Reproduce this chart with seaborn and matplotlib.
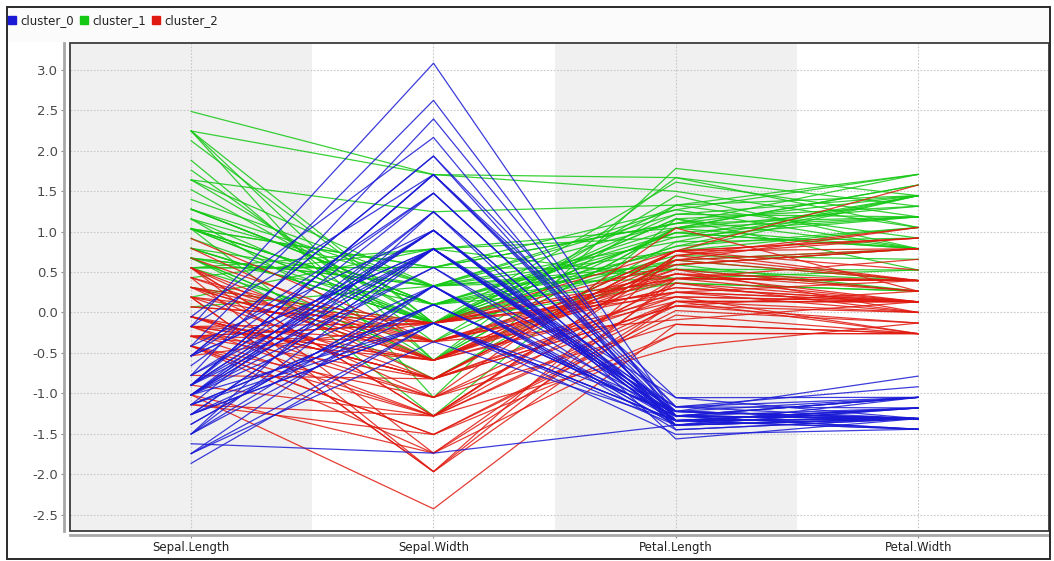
import numpy as np
import pandas as pd
import matplotlib
matplotlib.use("Agg")
import matplotlib.pyplot as plt
from matplotlib.patches import Rectangle
from matplotlib.lines import Line2D
import seaborn as sns

# ---- data (iris measurements, z-transformed per attribute) ----
attributes = ["Sepal.Length", "Sepal.Width", "Petal.Length", "Petal.Width"]
sepal_length = [5.1,4.9,4.7,4.6,5.0,5.4,4.6,5.0,4.4,4.9,5.4,4.8,4.8,4.3,5.8,5.7,5.4,5.1,5.7,5.1,5.4,5.1,4.6,5.1,4.8,5.0,5.0,5.2,5.2,4.7,4.8,5.4,5.2,5.5,4.9,5.0,5.5,4.9,4.4,5.1,5.0,4.5,4.4,5.0,5.1,4.8,5.1,4.6,5.3,5.0,
      7.0,6.4,6.9,5.5,6.5,5.7,6.3,4.9,6.6,5.2,5.0,5.9,6.0,6.1,5.6,6.7,5.6,5.8,6.2,5.6,5.9,6.1,6.3,6.1,6.4,6.6,6.8,6.7,6.0,5.7,5.5,5.5,5.8,6.0,5.4,6.0,6.7,6.3,5.6,5.5,5.5,6.1,5.8,5.0,5.6,5.7,5.7,6.2,5.1,5.7,
      6.3,5.8,7.1,6.3,6.5,7.6,4.9,7.3,6.7,7.2,6.5,6.4,6.8,5.7,5.8,6.4,6.5,7.7,7.7,6.0,6.9,5.6,7.7,6.3,6.7,7.2,6.2,6.1,6.4,7.2,7.4,7.9,6.4,6.3,6.1,7.7,6.3,6.4,6.0,6.9,6.7,6.9,5.8,6.8,6.7,6.7,6.3,6.5,6.2,5.9]
sepal_width = [3.5,3.0,3.2,3.1,3.6,3.9,3.4,3.4,2.9,3.1,3.7,3.4,3.0,3.0,4.0,4.4,3.9,3.5,3.8,3.8,3.4,3.7,3.6,3.3,3.4,3.0,3.4,3.5,3.4,3.2,3.1,3.4,4.1,4.2,3.1,3.2,3.5,3.6,3.0,3.4,3.5,2.3,3.2,3.5,3.8,3.0,3.8,3.2,3.7,3.3,
      3.2,3.2,3.1,2.3,2.8,2.8,3.3,2.4,2.9,2.7,2.0,3.0,2.2,2.9,2.9,3.1,3.0,2.7,2.2,2.5,3.2,2.8,2.5,2.8,2.9,3.0,2.8,3.0,2.9,2.6,2.4,2.4,2.7,2.7,3.0,3.4,3.1,2.3,3.0,2.5,2.6,3.0,2.6,2.3,2.7,3.0,2.9,2.9,2.5,2.8,
      3.3,2.7,3.0,2.9,3.0,3.0,2.5,2.9,2.5,3.6,3.2,2.7,3.0,2.5,2.8,3.2,3.0,3.8,2.6,2.2,3.2,2.8,2.8,2.7,3.3,3.2,2.8,3.0,2.8,3.0,2.8,3.8,2.8,2.8,2.6,3.0,3.4,3.1,3.0,3.1,3.1,3.1,2.7,3.2,3.3,3.0,2.5,3.0,3.4,3.0]
petal_length = [1.4,1.4,1.3,1.5,1.4,1.7,1.4,1.5,1.4,1.5,1.5,1.6,1.4,1.1,1.2,1.5,1.3,1.4,1.7,1.5,1.7,1.5,1.0,1.7,1.9,1.6,1.6,1.5,1.4,1.6,1.6,1.5,1.5,1.4,1.5,1.2,1.3,1.4,1.3,1.5,1.3,1.3,1.3,1.6,1.9,1.4,1.6,1.4,1.5,1.4,
      4.7,4.5,4.9,4.0,4.6,4.5,4.7,3.3,4.6,3.9,3.5,4.2,4.0,4.7,3.6,4.4,4.5,4.1,4.5,3.9,4.8,4.0,4.9,4.7,4.3,4.4,4.8,5.0,4.5,3.5,3.8,3.7,3.9,5.1,4.5,4.5,4.7,4.4,4.1,4.0,4.4,4.6,4.0,3.3,4.2,4.2,4.2,4.3,3.0,4.1,
      6.0,5.1,5.9,5.6,5.8,6.6,4.5,6.3,5.8,6.1,5.1,5.3,5.5,5.0,5.1,5.3,5.5,6.7,6.9,5.0,5.7,4.9,6.7,4.9,5.7,6.0,4.8,4.9,5.6,5.8,6.1,6.4,5.6,5.1,5.6,6.1,5.6,5.5,4.8,5.4,5.6,5.1,5.1,5.9,5.7,5.2,5.0,5.2,5.4,5.1]
petal_width = [0.2,0.2,0.2,0.2,0.2,0.4,0.3,0.2,0.2,0.1,0.2,0.2,0.1,0.1,0.2,0.4,0.4,0.3,0.3,0.3,0.2,0.4,0.2,0.5,0.2,0.2,0.4,0.2,0.2,0.2,0.2,0.4,0.1,0.2,0.2,0.2,0.2,0.1,0.2,0.2,0.3,0.3,0.2,0.6,0.4,0.3,0.2,0.2,0.2,0.2,
      1.4,1.5,1.5,1.3,1.5,1.3,1.6,1.0,1.3,1.4,1.0,1.5,1.0,1.4,1.3,1.4,1.5,1.0,1.5,1.1,1.8,1.3,1.5,1.2,1.3,1.4,1.4,1.7,1.5,1.0,1.1,1.0,1.2,1.6,1.5,1.6,1.5,1.3,1.3,1.3,1.2,1.4,1.2,1.0,1.3,1.2,1.3,1.3,1.1,1.3,
      2.5,1.9,2.1,1.8,2.2,2.1,1.7,1.8,1.8,2.5,2.0,1.9,2.1,2.0,2.4,2.3,1.8,2.2,2.3,1.5,2.3,2.0,2.0,1.8,2.1,1.8,1.8,1.8,2.1,1.6,1.9,2.0,2.2,1.5,1.4,2.3,2.4,1.8,1.8,2.1,2.4,2.3,1.9,2.3,2.5,2.3,1.9,2.0,2.3,1.8]
cluster_ids = ("0" * 50 +
               "1112221222" "2222212222" "1222211122" "2222211222" "2222222222"
               "1211112111" "1112211112" "1212112111" "1112211121" "1121112112")
cluster_names = ["cluster_0", "cluster_1", "cluster_2"]
cluster_colors = {"cluster_0": "#1a1ad6", "cluster_1": "#14c814", "cluster_2": "#e01a10"}
y_ticks = [-2.5, -2.0, -1.5, -1.0, -0.5, 0.0, 0.5, 1.0, 1.5, 2.0, 2.5, 3.0]

# ---- long table for seaborn ----
raw = np.array([sepal_length, sepal_width, petal_length, petal_width], dtype=float).T
z = (raw - raw.mean(axis=0)) / raw.std(axis=0, ddof=1)
rows = []
for i in range(len(raw)):
    cname = cluster_names[int(cluster_ids[i])]
    for j in range(len(attributes)):
        rows.append({"id": i, "pos": j, "value": z[i, j], "cluster": cname})
df = pd.DataFrame(rows)

W, H = 1054, 561
PX = 72 / 100  # points per pixel
fig = plt.figure(figsize=(W / 100, H / 100), dpi=100)
fig.patch.set_facecolor("white")

# outer frame + legend strip
fig.patches.append(Rectangle((7 / W, 1 - 42 / H), (1050 - 7) / W, 35 / H,
                             transform=fig.transFigure, facecolor="#fbfbfb",
                             edgecolor="none", zorder=0))
fig.patches.append(Rectangle((7 / W, 1 - 559 / H), (1050 - 7) / W, (559 - 7) / H,
                             transform=fig.transFigure, facecolor="none",
                             edgecolor="#2a2a2a", lw=1.4, zorder=5))

ax = fig.add_axes([70 / W, 1 - 531 / H, (1049 - 70) / W, (531 - 43) / H])
ax.set_facecolor("white")
ax.set_xlim(-0.5, 3.54)
ax.set_ylim(-2.70, 3.33)

# alternating background bands
for k in (0, 2):
    ax.axvspan(k - 0.5, k + 0.5, color="#f0f0f0", lw=0, zorder=0)

# grid
for yv in y_ticks:
    ax.axhline(yv, color="#c8c8c8", lw=0.8, ls=(0, (1.5, 1.5)), zorder=1)
for xv in range(len(attributes)):
    ax.axvline(xv, color="#c8c8c8", lw=0.8, ls=(0, (1.5, 1.5)), zorder=1)

sns.lineplot(data=df, x="pos", y="value", hue="cluster", units="id",
             estimator=None, sort=False, palette=cluster_colors,
             hue_order=["cluster_1", "cluster_2", "cluster_0"],
             lw=0.9, alpha=0.85, legend=False, ax=ax, zorder=2)

ax.set_xticks(range(len(attributes)))
ax.set_xticklabels(attributes)
ax.set_yticks(y_ticks)
ax.set_yticklabels([f"{v:.1f}" for v in y_ticks])
ax.set_xlabel("")
ax.set_ylabel("")
ax.tick_params(axis="y", direction="out", length=3 * PX, width=0.8, color="#8a8a8a",
               labelsize=9.5, labelcolor="#4a4a4a", pad=3 * PX)
ax.tick_params(axis="x", direction="out", length=3 * PX, width=0.8, color="#8a8a8a",
               labelsize=8.5, labelcolor="#222222", pad=3 * PX)

for s in ("top", "right"):
    ax.spines[s].set_visible(False)
ax.spines["left"].set_position(("outward", 6 * PX))
ax.spines["bottom"].set_position(("outward", 4 * PX))
for s in ("left", "bottom"):
    ax.spines[s].set_color("#a8a8a8")
    ax.spines[s].set_linewidth(2.0)

ax.add_patch(Rectangle((0, 0), 1, 1, transform=ax.transAxes, fill=False,
                       edgecolor="#3c3c3c", lw=1.3, zorder=10, clip_on=False))

handles = [Line2D([], [], ls="none", marker="s", markersize=5.5,
                  markerfacecolor=cluster_colors[c], markeredgecolor=cluster_colors[c])
           for c in cluster_names]
fig.legend(handles, cluster_names, loc="upper left", ncol=3,
           bbox_to_anchor=(8 / W, 1 - 14 / H), frameon=False, fontsize=8.5,
           handlelength=0.7, handletextpad=0.35, columnspacing=0.5,
           borderpad=0, borderaxespad=0, labelcolor="#222222")

fig.savefig("out.png", dpi=100)
